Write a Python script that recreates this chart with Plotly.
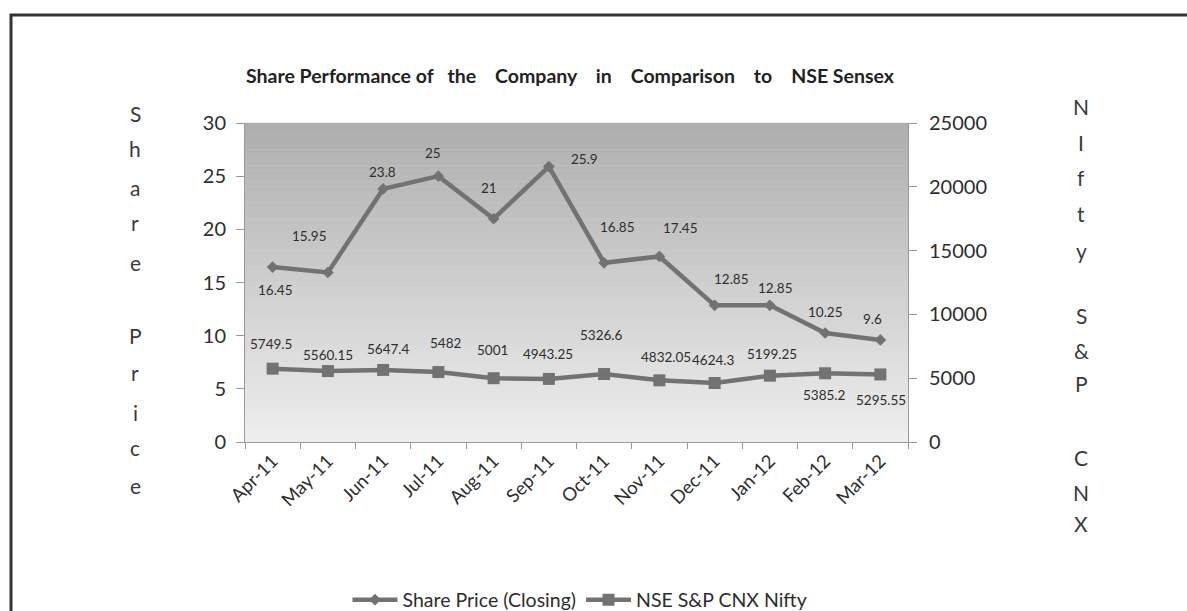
import plotly.graph_objects as go

months = ["Apr-11", "May-11", "Jun-11", "Jul-11", "Aug-11", "Sep-11",
          "Oct-11", "Nov-11", "Dec-11", "Jan-12", "Feb-12", "Mar-12"]
share_price = [16.45, 15.95, 23.8, 25, 21, 25.9, 16.85, 17.45, 12.85, 12.85, 10.25, 9.6]
nifty = [5749.5, 5560.15, 5647.4, 5482, 5001, 4943.25, 5326.6, 4832.05, 4624.3, 5199.25, 5385.2, 5295.55]
share_labels = ["16.45", "15.95", "23.8", "25", "21", "25.9", "16.85", "17.45", "12.85", "12.85", "10.25", "9.6"]
nifty_labels = ["5749.5", "5560.15", "5647.4", "5482", "5001", "4943.25", "5326.6", "4832.05", "4624.3", "5199.25", "5385.2", "5295.55"]

# label offsets in pixels (dx, dy) with dy positive = down
share_off = [(3, 23), (-18, -36), (-1, -17), (-5, -23), (-5, -31), (36, -8),
             (13, -36), (21, -28), (17, -26), (6, -17), (0, -21), (-8, -21)]
nifty_off = [(-2, -25), (0, -16), (5, -21), (7, -29), (-1, -28), (-1, -25),
             (-3, -39), (7, -23), (-1, -23), (2, -22), (-1, 22), (1, 26)]

W, H = 1187, 611
L, R, T, B = 245, 908, 123, 442
FONT = "Lato, 'Open Sans', sans-serif"
LINE_COLOR = "#727272"
TXT = "#2e2e2e"

def px(xp):
    return (xp - L) / (R - L)

def py(yp):
    return (B - yp) / (B - T)

fig = go.Figure()
fig.add_trace(go.Scatter(x=months, y=share_price, name="Share Price (Closing)",
                         mode="lines+markers",
                         line=dict(color=LINE_COLOR, width=4.5),
                         marker=dict(symbol="diamond", size=9, color=LINE_COLOR)))
fig.add_trace(go.Scatter(x=months, y=nifty, name="NSE S&P CNX Nifty", yaxis="y2",
                         mode="lines+markers",
                         line=dict(color=LINE_COLOR, width=4.5),
                         marker=dict(symbol="square", size=12, color=LINE_COLOR)))

annotations = []
for m, v, t, (dx, dy) in zip(months, share_price, share_labels, share_off):
    annotations.append(dict(x=m, y=v, xref="x", yref="y", text=t, showarrow=False,
                            xanchor="center", yanchor="middle",
                            xshift=dx, yshift=-dy, font=dict(size=13.5, color=TXT, family=FONT)))
for m, v, t, (dx, dy) in zip(months, nifty, nifty_labels, nifty_off):
    annotations.append(dict(x=m, y=v, xref="x", yref="y2", text=t, showarrow=False,
                            xanchor="center", yanchor="middle",
                            xshift=dx, yshift=-dy, font=dict(size=13.5, color=TXT, family=FONT)))

# title
sp = "&nbsp;&nbsp;&nbsp; "
title_txt = ("<b>Share Performance of" + "&nbsp;&nbsp; " + "the" + sp + "Company" + sp + "in" + sp +
             "Comparison" + sp + "to" + sp + "NSE Sensex</b>")
annotations.append(dict(x=px(570), y=py(75), xref="paper", yref="paper",
                        xanchor="center", yanchor="middle",
                        text=title_txt, showarrow=False,
                        font=dict(size=19.5, color="#222222", family=FONT)))

# vertical letter titles
left_letters = ["S", "h", "a", "r", "e", "P", "r", "i", "c", "e"]
left_y = [113, 148, 187, 222, 262, 335, 372, 412, 447, 485]
for ch, yy in zip(left_letters, left_y):
    annotations.append(dict(x=px(135), y=py(yy), xref="paper", yref="paper", text=ch,
                            xanchor="center", yanchor="middle",
                            showarrow=False, font=dict(size=21, color="#3a3a3a", family=FONT)))
right_letters = ["N", "I", "f", "t", "y", "S", "&amp;", "P", "C", "N", "X"]
right_y = [107, 142, 177, 213, 250, 315, 350, 383, 457, 492, 523]
for ch, yy in zip(right_letters, right_y):
    annotations.append(dict(x=px(1081), y=py(yy), xref="paper", yref="paper", text=ch,
                            xanchor="center", yanchor="middle",
                            showarrow=False, font=dict(size=21, color="#3a3a3a", family=FONT)))

shapes = []
# gradient background
n = 60
top_c, bot_c = 0xAE, 0xEE
for i in range(n):
    f = i / (n - 1)
    c = int(round(top_c + (bot_c - top_c) * f))
    y1 = 1 - i / n
    y0 = 1 - (i + 1) / n
    shapes.append(dict(type="rect", xref="paper", yref="paper", x0=0, x1=1, y0=y0, y1=y1 + 0.001,
                       fillcolor=f"rgb({c},{c},{c})", line=dict(width=0), layer="below"))
# outer border (left and top)
shapes.append(dict(type="path", xref="paper", yref="paper",
                   path=f"M {px(11)} {py(611)} L {px(11)} {py(15)} L {px(1187)} {py(15)}",
                   line=dict(color="#333333", width=3)))

fig.update_layout(
    width=W, height=H,
    margin=dict(l=L, r=W - R, t=T, b=H - B, autoexpand=False),
    paper_bgcolor="white", plot_bgcolor="#dddddd",
    font=dict(family=FONT, color=TXT),
    showlegend=True,
    legend=dict(orientation="h", x=px(580), y=py(600), xanchor="center", yanchor="middle",
                font=dict(size=19.5, color=TXT, family=FONT), itemwidth=45,
                bgcolor="rgba(0,0,0,0)"),
    xaxis=dict(type="category", tickangle=-45, tickson="boundaries", ticks="outside",
               ticklen=6, tickcolor="#999999", showline=True, linecolor="#999999", linewidth=1,
               showgrid=False, tickfont=dict(size=18.5, color=TXT, family=FONT),
               range=[-0.5, 11.5], automargin=False),
    yaxis=dict(range=[0, 30], dtick=5, ticks="outside", ticklen=8, tickcolor="#999999",
               showline=True, linecolor="#999999", showgrid=False, zeroline=False,
               ticklabelstandoff=6,
               tickfont=dict(size=20, color=TXT, family=FONT), automargin=False),
    yaxis2=dict(range=[0, 25000], dtick=5000, tickformat="d", overlaying="y", side="right",
                ticks="outside", ticklen=8, tickcolor="#999999", showline=True,
                linecolor="#999999", showgrid=False, zeroline=False,
                ticklabelstandoff=8,
                tickfont=dict(size=20, color=TXT, family=FONT), automargin=False),
    annotations=annotations,
    shapes=shapes,
)

fig.write_html("out.html")
